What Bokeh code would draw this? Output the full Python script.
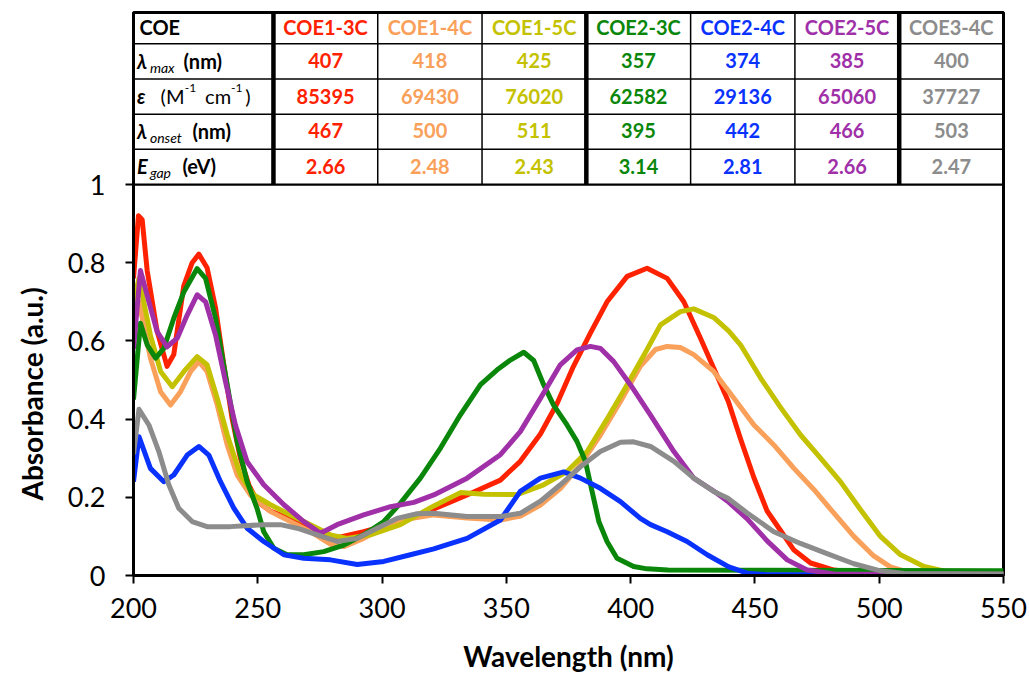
import math
from bokeh.plotting import figure
from bokeh.models import Range1d, FixedTicker, NumeralTickFormatter, Label, Title
from bokeh.core.properties import value
from bokeh.embed import file_html
from bokeh.resources import INLINE

# ---------------- data ----------------
names = ["COE1-3C", "COE1-4C", "COE1-5C", "COE2-3C", "COE2-4C", "COE2-5C", "COE3-4C"]
colors = ["#FF2200", "#F9A05A", "#C4C200", "#0A870A", "#0A32FF", "#A030A8", "#8C8C8C"]
lam_max = ["407", "418", "425", "357", "374", "385", "400"]
epsilon = ["85395", "69430", "76020", "62582", "29136", "65060", "37727"]
lam_onset = ["467", "500", "511", "395", "442", "466", "503"]
e_gap = ["2.66", "2.48", "2.43", "3.14", "2.81", "2.66", "2.47"]

x_ticks = [200, 250, 300, 350, 400, 450, 500, 550]
y_ticks = [0, 0.2, 0.4, 0.6, 0.8, 1.0]

wl_13 = [200, 202, 203.5, 205.5, 209.5, 213.5, 216.2, 220.2, 223.6, 226.3, 229.6, 233, 236.3, 239.7, 243, 246.4,
         249.7, 255, 261.8, 268.5, 276.5, 282, 292.6, 306, 320.8, 334.2, 347.6, 355.6, 363.7, 370.4, 377, 383.8,
         390.5, 398.6, 406.6, 414.7, 421.4, 428.1, 434.8, 439.3, 444.2, 449.6, 454.9, 460.3, 465.7, 472.4, 481.8,
         490, 550]
ab_13 = [0.76, 0.92, 0.91, 0.78, 0.625, 0.535, 0.565, 0.74, 0.80, 0.822, 0.787, 0.685, 0.54, 0.40, 0.30, 0.232,
         0.19, 0.165, 0.148, 0.13, 0.106, 0.097, 0.112, 0.136, 0.17, 0.206, 0.244, 0.292, 0.362, 0.44, 0.535, 0.62,
         0.70, 0.765, 0.786, 0.76, 0.70, 0.607, 0.51, 0.445, 0.35, 0.25, 0.165, 0.115, 0.065, 0.032, 0.014,
         0.008, 0.005]

wl_14 = [200, 202.2, 206.8, 210.9, 214.9, 218.9, 223, 226.3, 229.6, 233.7, 237.7, 241.7, 247, 255, 263.1, 271.2,
         279.2, 284.6, 292.6, 306, 320.8, 334.2, 347.6, 355.7, 363.7, 371.8, 379.8, 387.9, 395.9, 403.9, 410,
         414.7, 420, 425.4, 433.4, 441.5, 449.6, 457.6, 465.7, 473.7, 481.7, 489.8, 497.8, 504.5, 512, 520, 550]
ab_14 = [0.66, 0.70, 0.556, 0.47, 0.436, 0.47, 0.522, 0.547, 0.522, 0.436, 0.334, 0.257, 0.206, 0.164, 0.138, 0.112,
         0.08, 0.074, 0.095, 0.14, 0.155, 0.147, 0.142, 0.152, 0.18, 0.223, 0.283, 0.36, 0.445, 0.535, 0.578,
         0.586, 0.583, 0.565, 0.522, 0.454, 0.385, 0.334, 0.274, 0.22, 0.16, 0.10, 0.05, 0.022, 0.008, 0.004, 0.003]

wl_15 = [200, 202.2, 206.8, 210.9, 215.6, 220.3, 225.6, 229.6, 233.7, 237.7, 243, 248.4, 255.1, 263.1, 271.2, 279.2,
         285.9, 295.3, 307.4, 320.8, 331.5, 341, 354.3, 365, 374.4, 382.5, 390.5, 398.6, 406.6, 412, 420, 425.4,
         433.4, 439.5, 444.2, 452.3, 460.3, 468.3, 476.4, 484.4, 492.5, 500.5, 508.6, 518, 527.3, 535, 550]
ab_15 = [0.70, 0.76, 0.615, 0.522, 0.483, 0.522, 0.56, 0.539, 0.453, 0.36, 0.257, 0.206, 0.181, 0.155, 0.13, 0.104,
         0.095, 0.104, 0.13, 0.178, 0.212, 0.208, 0.207, 0.232, 0.266, 0.317, 0.40, 0.488, 0.578, 0.641, 0.675, 0.682,
         0.66, 0.625, 0.59, 0.505, 0.43, 0.36, 0.30, 0.24, 0.168, 0.10, 0.053, 0.023, 0.01, 0.005, 0.004]

wl_23 = [200, 202.8, 205.5, 208.9, 212.2, 216.2, 220.3, 225.6, 229, 233, 237.7, 241.7, 245.7, 249.7, 252.4, 256.4,
         261.8, 268.5, 276.5, 284.6, 292.6, 300.7, 307.4, 315.4, 323.5, 331.5, 339.6, 346.3, 351.6, 357, 361, 365,
         369, 374.4, 378.4, 381.8, 384.5, 387.2, 390.5, 394.5, 401.2, 406.6, 415, 550]
ab_23 = [0.45, 0.645, 0.59, 0.556, 0.581, 0.658, 0.726, 0.785, 0.76, 0.658, 0.488, 0.343, 0.24, 0.172, 0.112, 0.07,
         0.053, 0.053, 0.061, 0.078, 0.104, 0.138, 0.185, 0.249, 0.326, 0.411, 0.488, 0.526, 0.551, 0.571, 0.55, 0.488,
         0.436, 0.385, 0.343, 0.292, 0.215, 0.138, 0.087, 0.044, 0.023, 0.017, 0.014, 0.012]

wl_24 = [200, 202.2, 206.8, 212.2, 216.2, 221.6, 226.3, 230.3, 235, 240.4, 245.7, 252.4, 260.5, 268.5, 279.2, 290,
         300.7, 311.4, 320.8, 334.2, 347.6, 355.6, 363.7, 373.1, 379.8, 387.8, 395.9, 403.9, 408, 414.7, 422.7,
         430.8, 439.5, 446.9, 455, 550]
ab_24 = [0.24, 0.355, 0.274, 0.24, 0.257, 0.308, 0.33, 0.308, 0.24, 0.172, 0.121, 0.087, 0.053, 0.044, 0.04, 0.028,
         0.036, 0.053, 0.068, 0.095, 0.142, 0.215, 0.249, 0.265, 0.249, 0.223, 0.189, 0.146, 0.13, 0.112, 0.087,
         0.053, 0.022, 0.006, 0.002, 0.002]

wl_25 = [200, 202.8, 206.2, 209.5, 213.5, 217.6, 221.6, 225.6, 229, 233, 237, 241, 245.7, 252.4, 260.5, 268.5,
         275.2, 281.9, 292.6, 303.4, 312.8, 320.8, 334.2, 347.6, 355.6, 363.7, 371.7, 378.4, 383.8, 387.8, 393.2,
         399.9, 408, 417.4, 425.4, 434.8, 439, 446.9, 455, 463, 471, 481.8, 550]
ab_25 = [0.58, 0.78, 0.70, 0.624, 0.585, 0.607, 0.666, 0.718, 0.70, 0.615, 0.496, 0.385, 0.291, 0.232, 0.181, 0.138,
         0.108, 0.13, 0.155, 0.176, 0.187, 0.206, 0.249, 0.309, 0.368, 0.453, 0.539, 0.577, 0.586, 0.581, 0.547,
         0.488, 0.41, 0.317, 0.249, 0.21, 0.19, 0.145, 0.088, 0.04, 0.014, 0.004, 0.003]

wl_34 = [200, 202.2, 206.2, 210.2, 214.2, 218.2, 223.6, 229.6, 239, 252.4, 259.1, 265.8, 273.9, 281.9, 290, 298,
         306, 314.1, 320.8, 334.2, 347.6, 355.6, 363.7, 371.7, 379.8, 387.8, 395.9, 401.2, 408, 417.4, 425.4,
         433.4, 439, 446.9, 457.6, 468.3, 479, 489.8, 500.5, 510, 550]
ab_34 = [0.31, 0.425, 0.385, 0.317, 0.232, 0.172, 0.138, 0.125, 0.125, 0.13, 0.13, 0.121, 0.104, 0.087, 0.095, 0.121,
         0.146, 0.158, 0.159, 0.151, 0.151, 0.159, 0.19, 0.232, 0.278, 0.317, 0.341, 0.342, 0.33, 0.292, 0.249,
         0.215, 0.198, 0.16, 0.112, 0.082, 0.056, 0.03, 0.012, 0.005, 0.004]

wavelengths = [wl_13, wl_14, wl_15, wl_23, wl_24, wl_25, wl_34]
absorbances = [ab_13, ab_14, ab_15, ab_23, ab_24, ab_25, ab_34]

# ---------------- figure ----------------
FONT = "Lato"
p = figure(width=1029, height=677, x_range=Range1d(200, 550), y_range=Range1d(0, 1.44),
           output_backend="svg", toolbar_location=None,
           min_border_left=133, min_border_right=26, min_border_top=12, min_border_bottom=102)
p.grid.visible = False
p.outline_line_color = "black"
p.outline_line_width = 3
p.background_fill_color = "white"
p.border_fill_color = "white"

for wl, ab, c in zip(wavelengths, absorbances, colors):
    p.line(wl, ab, line_color=c, line_width=5, line_join="round")

for ax in (p.xaxis[0], p.yaxis[0]):
    ax.axis_line_width = 3
    ax.axis_line_color = "black"
    ax.major_tick_line_width = 2
    ax.major_tick_line_color = "black"
    ax.major_tick_in = 0
    ax.major_tick_out = 8
    ax.minor_tick_line_color = None
    ax.major_label_text_font = FONT
    ax.major_label_text_font_size = "27px"
    ax.major_label_text_color = "black"

xa = p.xaxis[0]
xa.ticker = FixedTicker(ticks=x_ticks)
xa.major_label_standoff = 14
xa.axis_label = "Wavelength (nm)"
xa.axis_label_text_font = FONT
xa.axis_label_text_font_size = "28px"
xa.axis_label_text_font_style = "bold"
xa.axis_label_text_color = "black"
xa.axis_label_standoff = 18

ya = p.yaxis[0]
ya.ticker = FixedTicker(ticks=y_ticks)
ya.formatter = NumeralTickFormatter(format="0.[0]")
ya.major_label_standoff = 20

ytitle = Title(text="Absorbance (a.u.)", align="left", offset=75, vertical_align="top",
               standoff=28, text_font=FONT, text_font_size="28px", text_font_style="bold",
               text_color="black")
p.add_layout(ytitle, "left")

# ---------------- table ----------------
first_edge = 256.3
col_w = (550 - first_edge) / 7
col_edges = [first_edge + col_w * k for k in range(8)]
col_centers = [first_edge + col_w * (k + 0.5) for k in range(7)]
row_edges = [1.0, 1.09, 1.18, 1.27, 1.36, 1.44]
row_centers = [1.403, 1.316, 1.226, 1.137, 1.047]

thick = [col_edges[0], col_edges[3], col_edges[6]]
thin = [col_edges[1], col_edges[2], col_edges[4], col_edges[5]]
p.segment(x0=thin, y0=[1.0] * 4, x1=thin, y1=[1.44] * 4, line_color="black", line_width=1.5)
p.segment(x0=thick, y0=[1.0] * 3, x1=thick, y1=[1.44] * 3, line_color="black", line_width=4.5)
p.segment(x0=[200] * 4, y0=row_edges[1:5], x1=[550] * 4, y1=row_edges[1:5], line_color="black", line_width=1.5)
p.segment(x0=[200], y0=[1.0], x1=[550], y1=[1.0], line_color="black", line_width=2.2)

rows = [names, lam_max, epsilon, lam_onset, e_gap]
for yc, vals in zip(row_centers, rows):
    p.text(x=col_centers, y=[yc] * 7, text=vals, text_color=colors,
           text_font=value(FONT), text_font_size="20px", text_font_style="bold",
           text_align="center", text_baseline="middle")


def piece(x, y, t, size="20px", style="bold"):
    p.add_layout(Label(x=x, y=y, text=t, text_font=FONT, text_font_size=size,
                       text_font_style=style, text_color="black",
                       text_align="left", text_baseline="middle"))


SUB = 0.016
SUP = 0.02
# header
piece(202.4, row_centers[0], "COE")
# lambda max
piece(201.4, row_centers[1], "λ", style="bold italic")
piece(206.6, row_centers[1] - SUB, "max", size="14px", style="italic")
piece(220.1, row_centers[1], "(nm)")
# epsilon
piece(201.4, row_centers[2], "ε", style="bold italic")
piece(210.9, row_centers[2], "(M", style="normal")
piece(220.6, row_centers[2] + SUP, "-1", size="12px", style="normal")
piece(228.8, row_centers[2], "cm", style="normal")
piece(239.2, row_centers[2] + SUP, "-1", size="12px", style="normal")
piece(245.0, row_centers[2], ")", style="normal")
# lambda onset
piece(201.4, row_centers[3], "λ", style="bold italic")
piece(206.6, row_centers[3] - SUB, "onset", size="14px", style="italic")
piece(223.7, row_centers[3], "(nm)")
# E gap
piece(201.4, row_centers[4], "E", style="bold italic")
piece(206.6, row_centers[4] - SUB, "gap", size="14px", style="italic")
piece(219.7, row_centers[4], "(eV)")

open("out.html", "w").write(file_html(p, INLINE))
